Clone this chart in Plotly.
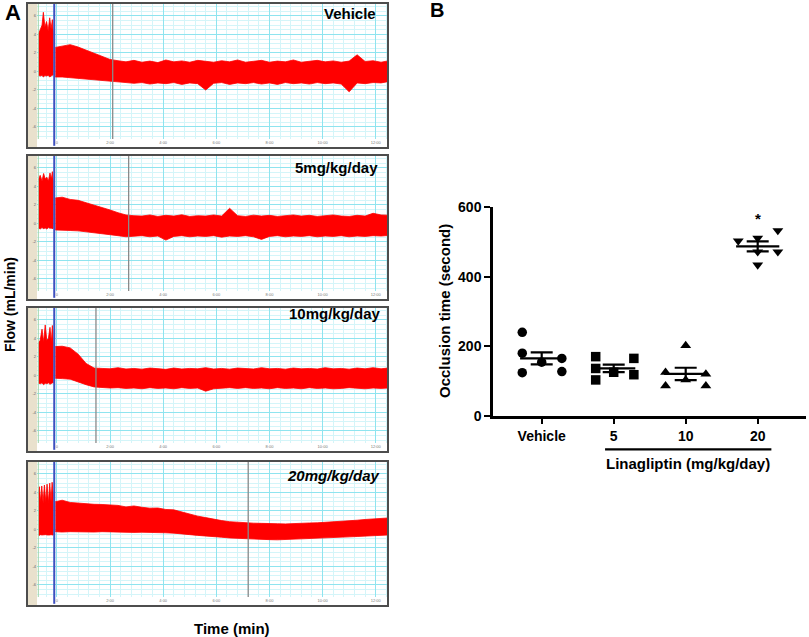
import plotly.graph_objects as go

W, H = 809, 637

# ---------------- panel A: flow traces (envelope of the red signal, grid units) ----------------
trace_names = ["Vehicle", "5mg/kg/day", "10mg/kg/day", "20mg/kg/day"]
occlusion_marks = [2.1, 2.7, 1.47, 7.2]      # grey cursor line, min

time_ticks = [0, 2, 4, 6, 8, 10, 12]
time_labels = ["0", "2:00", "4:00", "6:00", "8:00", "10:00", "12:00"]
flow_ticks = [-3, -2, -1, 0, 1, 2, 3]
flow_labels = ["-6", "-4", "-2", "0", "2", "4", "6"]

# samples before the probe marker (min)
veh_t_pre = [-0.70, -0.63, -0.56, -0.51, -0.45, -0.39, -0.33, -0.27, -0.22, -0.17, -0.14]
veh_hi_pre = [2.0, 2.3, 2.5, 3.2, 2.4, 2.7, 2.2, 2.9, 2.3, 2.8, 2.1]
veh_lo_pre = [-0.2, -0.25, -0.2, -0.3, -0.22, -0.25, -0.2, -0.3, -0.25, -0.2, -0.2]
mg5_t_pre = [-0.70, -0.63, -0.56, -0.50, -0.44, -0.38, -0.32, -0.26, -0.21, -0.17, -0.14]
mg5_hi_pre = [2.35, 2.6, 2.3, 2.7, 2.4, 2.5, 2.3, 2.73, 2.4, 2.8, 2.3]
mg5_lo_pre = [-0.24, -0.3, -0.22, -0.28, -0.24, -0.3, -0.22, -0.26, -0.24, -0.3, -0.24]
mg10_t_pre = [-0.70, -0.63, -0.56, -0.50, -0.44, -0.38, -0.32, -0.26, -0.21, -0.17, -0.14]
mg10_hi_pre = [1.72, 1.9, 2.5, 1.8, 2.73, 1.9, 2.0, 2.6, 1.8, 2.7, 1.75]
mg10_lo_pre = [-0.41, -0.45, -0.4, -0.5, -0.42, -0.45, -0.4, -0.48, -0.42, -0.4, -0.41]
mg20_t_pre = [-0.70, -0.66, -0.61, -0.57, -0.52, -0.47, -0.42, -0.37, -0.32, -0.27, -0.22, -0.18, -0.14]
mg20_hi_pre = [1.9, 2.31, 1.5, 2.35, 1.45, 2.4, 1.5, 2.45, 1.45, 2.5, 1.5, 2.55, 1.9]
mg20_lo_pre = [-0.3, -0.32, -0.28, -0.3, -0.32, -0.3, -0.28, -0.3, -0.32, -0.3, -0.28, -0.3, -0.3]

# samples after the probe marker (min), shared by the four recordings
t_post = [-0.06, 0.2, 0.5, 0.8, 1.1, 1.4, 1.7, 2.0, 2.3, 2.6,
          2.9, 3.2, 3.5, 3.8, 4.1, 4.4, 4.7, 5.0, 5.3, 5.6,
          5.9, 6.2, 6.5, 6.8, 7.1, 7.4, 7.7, 8.0, 8.3, 8.6,
          8.9, 9.2, 9.5, 9.8, 10.1, 10.4, 10.7, 11.0, 11.3, 11.6,
          11.9, 12.2, 12.46]

veh_hi = [1.3, 1.38, 1.45, 1.32, 1.15, 0.95, 0.78, 0.65, 0.58, 0.52,
          0.6, 0.5, 0.56, 0.48, 0.62, 0.52, 0.57, 0.5, 0.6, 0.53,
          0.5, 0.58, 0.52, 0.62, 0.5, 0.55, 0.6, 0.5, 0.56, 0.52,
          0.62, 0.5, 0.55, 0.6, 0.52, 0.57, 0.5, 0.56, 0.9, 0.54,
          0.58, 0.5, 0.57]
veh_lo = [-0.3, -0.3, -0.32, -0.35, -0.38, -0.42, -0.46, -0.5, -0.56, -0.6,
          -0.64, -0.6, -0.68, -0.62, -0.66, -0.6, -0.7, -0.62, -0.66, -1.0,
          -0.64, -0.6, -0.7, -0.62, -0.66, -0.6, -0.68, -0.62, -0.7, -0.6,
          -0.66, -0.62, -0.68, -0.6, -0.66, -0.62, -0.68, -1.1, -0.62, -0.66,
          -0.6, -0.62, -0.55]

mg5_hi = [1.38, 1.42, 1.3, 1.25, 1.12, 1.0, 0.88, 0.73, 0.58, 0.46,
          0.42, 0.4, 0.46, 0.38, 0.44, 0.4, 0.47, 0.38, 0.42, 0.4,
          0.46, 0.4, 0.82, 0.42, 0.38, 0.45, 0.4, 0.44, 0.38, 0.42,
          0.46, 0.4, 0.44, 0.38, 0.42, 0.46, 0.4, 0.38, 0.44, 0.4,
          0.55, 0.46, 0.45]
mg5_lo = [-0.35, -0.36, -0.38, -0.4, -0.42, -0.5, -0.55, -0.6, -0.66, -0.72,
          -0.7, -0.66, -0.72, -0.68, -0.9, -0.7, -0.66, -0.72, -0.68, -0.7,
          -0.66, -0.74, -0.68, -0.7, -0.66, -0.72, -0.86, -0.7, -0.66, -0.72,
          -0.68, -0.7, -0.66, -0.72, -0.68, -0.7, -0.66, -0.72, -0.68, -0.7,
          -0.66, -0.68, -0.65]

mg10_hi = [1.56, 1.58, 1.49, 1.15, 0.65, 0.4, 0.38, 0.36, 0.42, 0.35,
           0.38, 0.34, 0.4, 0.36, 0.33, 0.4, 0.35, 0.38, 0.36, 0.42,
           0.35, 0.38, 0.34, 0.4, 0.36, 0.35, 0.42, 0.36, 0.38, 0.34,
           0.4, 0.36, 0.38, 0.35, 0.42, 0.36, 0.38, 0.34, 0.4, 0.36,
           0.42, 0.36, 0.4]
mg10_lo = [-0.15, -0.17, -0.2, -0.34, -0.5, -0.62, -0.66, -0.68, -0.66, -0.7,
           -0.68, -0.72, -0.66, -0.7, -0.68, -0.72, -0.66, -0.7, -0.68, -0.85,
           -0.72, -0.68, -0.66, -0.7, -0.66, -0.7, -0.68, -0.72, -0.66, -0.7,
           -0.68, -0.72, -0.66, -0.7, -0.68, -0.72, -0.7, -0.66, -0.7, -0.72,
           -0.68, -0.7, -0.68]

mg20_hi = [1.5, 1.58, 1.46, 1.42, 1.4, 1.36, 1.35, 1.32, 1.3, 1.22,
           1.27, 1.2, 1.15, 1.16, 1.08, 1.06, 0.95, 0.8, 0.72, 0.64,
           0.55, 0.48, 0.42, 0.38, 0.36, 0.34, 0.33, 0.3, 0.31, 0.3,
           0.33, 0.32, 0.35, 0.36, 0.38, 0.4, 0.44, 0.46, 0.5, 0.54,
           0.58, 0.6, 0.62]
mg20_lo = [-0.12, -0.14, -0.12, -0.13, -0.12, -0.14, -0.12, -0.13, -0.15, -0.14,
           -0.16, -0.15, -0.17, -0.16, -0.18, -0.2, -0.22, -0.28, -0.32, -0.36,
           -0.4, -0.42, -0.46, -0.48, -0.51, -0.52, -0.54, -0.55, -0.56, -0.55,
           -0.53, -0.52, -0.5, -0.47, -0.45, -0.44, -0.42, -0.4, -0.38, -0.36,
           -0.33, -0.31, -0.3]

segments = [
    (veh_t_pre, veh_hi_pre, veh_lo_pre, veh_hi, veh_lo),
    (mg5_t_pre, mg5_hi_pre, mg5_lo_pre, mg5_hi, mg5_lo),
    (mg10_t_pre, mg10_hi_pre, mg10_lo_pre, mg10_hi, mg10_lo),
    (mg20_t_pre, mg20_hi_pre, mg20_lo_pre, mg20_hi, mg20_lo),
]

# ---------------- panel B: occlusion time ----------------
groups = ["Vehicle", "5", "10", "20"]
vehicle_sec = [240, 180, 124, 154, 165, 127]
lina5_sec = [170, 136, 103, 125, 165, 118]
lina10_sec = [202, 125, 86, 103, 120, 86]
lina20_sec = [503, 511, 533, 472, 472, 434]
group_values = [vehicle_sec, lina5_sec, lina10_sec, lina20_sec]
group_symbols = ["circle", "square", "triangle-up", "triangle-down"]
# horizontal spread of the dots inside each column
dot_offsets = [
    [-0.27, -0.27, -0.27, 0.0, 0.28, 0.28],
    [-0.25, -0.25, -0.25, 0.0, 0.28, 0.28],
    [0.0, -0.28, -0.28, 0.0, 0.28, 0.28],
    [-0.27, 0.0, 0.28, 0.0, 0.28, 0.0],
]

fig = go.Figure()


def px_x(p):
    return p / W


def px_y(p):
    return 1 - p / H


box_tops = [3, 155, 307, 461]
plot_h = 136
box_h = 145
x_left, x_plot, x_right = 27, 37, 388
t_range = [(x_plot - 56.9) / 26.57, (x_right - 56.9) / 26.57]

shapes = []
annotations = []
label_pos = [(378, 13), (380, 167), (383, 313), (382, 475)]

for i, (tp, hp, lp, hq, lq) in enumerate(segments):
    n = "" if i == 0 else str(i + 1)
    top = box_tops[i]
    fig.update_layout(**{
        "xaxis" + n: dict(
            domain=[px_x(x_plot), px_x(x_right)], range=t_range, anchor="y" + n,
            tickvals=time_ticks, ticktext=time_labels, ticks="", showline=False,
            tickfont=dict(size=4, color="#777"), zeroline=False, automargin=False,
            showgrid=True, gridcolor="#8fe4ef", gridwidth=1.2,
            minor=dict(dtick=0.4, tick0=0, showgrid=True, gridcolor="#d4f5f9", gridwidth=0.8),
        ),
        "yaxis" + n: dict(
            domain=[px_y(top + plot_h), px_y(top)], range=[-3.65, 3.70], anchor="x" + n,
            tickvals=flow_ticks, ticktext=flow_labels, ticks="", showline=False,
            tickfont=dict(size=4, color="#666"), zeroline=False, automargin=False,
            showgrid=True, gridcolor="#8fe4ef", gridwidth=1.2,
            minor=dict(dtick=0.25, tick0=0, showgrid=True, gridcolor="#d4f5f9", gridwidth=0.8),
        ),
    })
    for tt, hh, ll in [(tp, hp, lp), (t_post, hq, lq)]:
        fig.add_trace(go.Scatter(
            x=tt + tt[::-1], y=hh + ll[::-1], fill="toself", mode="lines",
            line=dict(color="#ff0000", width=0.8), fillcolor="#ff0000",
            xaxis="x" + n, yaxis="y" + n, showlegend=False, hoverinfo="skip",
        ))
    # beige label strip
    shapes.append(dict(type="rect", xref="paper", yref="paper", layer="below",
                       x0=px_x(x_left), x1=px_x(x_plot), y0=px_y(top + box_h), y1=px_y(top),
                       fillcolor="#e9e1cd", line=dict(width=0)))
    # probe start (green), marker line (blue), occlusion cursor (grey)
    shapes.append(dict(type="line", xref="x" + n, yref="y" + n + " domain",
                       x0=-0.70, x1=-0.70, y0=0, y1=1, line=dict(color="#9fd4a8", width=1)))
    shapes.append(dict(type="line", xref="x" + n, yref="y" + n + " domain",
                       x0=-0.10, x1=-0.10, y0=-0.05, y1=1, line=dict(color="#3d50c0", width=2)))
    shapes.append(dict(type="line", xref="x" + n, yref="y" + n + " domain",
                       x0=occlusion_marks[i], x1=occlusion_marks[i], y0=0, y1=1,
                       line=dict(color="#8a8a8a", width=1.3)))
    shapes.append(dict(type="rect", xref="paper", yref="paper",
                       x0=px_x(x_left), x1=px_x(x_right), y0=px_y(top + box_h), y1=px_y(top),
                       line=dict(color="#4d4d4d", width=2)))
    lx, ly = label_pos[i]
    annotations.append(dict(
        x=px_x(lx), y=px_y(ly), xref="paper", yref="paper", xanchor="right", yanchor="middle",
        text="<i>" + trace_names[i] + "</i>" if i == 3 else trace_names[i], showarrow=False,
        font=dict(size=15, color="black", family="Liberation Sans, Arial", weight="bold"),
    ))

# ---------------- panel B axes and marks ----------------
b_left, b_right = 493, 806
b_zero, b_top = 415.7, 207.3
cat_x0, cat_step = 541.7, 72.0
xb_range = [(b_left - cat_x0) / cat_step, (b_right - cat_x0) / cat_step]

fig.update_layout(
    xaxis5=dict(domain=[px_x(b_left), px_x(b_right)], range=xb_range, anchor="y5",
                tickvals=[0, 1, 2, 3], ticktext=groups, showgrid=False, zeroline=False,
                showline=True, linecolor="black", linewidth=2.5, automargin=False,
                ticks="outside", ticklen=6, tickwidth=2, tickcolor="black",
                tickfont=dict(size=14, color="black", family="Liberation Sans, Arial", weight="bold")),
    yaxis5=dict(domain=[px_y(b_zero), px_y(b_top)], range=[0, 600], anchor="x5",
                tickvals=[0, 200, 400, 600], showgrid=False, zeroline=False,
                showline=True, linecolor="black", linewidth=2.5, automargin=False,
                ticks="outside", ticklen=6, tickwidth=2, tickcolor="black",
                tickfont=dict(size=14, color="black", family="Liberation Sans, Arial", weight="bold")),
)

mean_x, mean_y, sem_list, means = [], [], [], []
for gi, vals in enumerate(group_values):
    m = sum(vals) / len(vals)
    sd = (sum((v - m) ** 2 for v in vals) / (len(vals) - 1)) ** 0.5
    means.append(m)
    sem_list.append(sd / len(vals) ** 0.5)
    mean_x += [gi - 0.3, gi + 0.3, None]
    mean_y += [m, m, None]
    fig.add_trace(go.Scatter(
        x=[gi + o for o in dot_offsets[gi]], y=vals, mode="markers",
        marker=dict(symbol=group_symbols[gi], size=9.5, color="black", line=dict(width=0)),
        xaxis="x5", yaxis="y5", showlegend=False, cliponaxis=False,
    ))

fig.add_trace(go.Scatter(x=mean_x, y=mean_y, mode="lines", line=dict(color="black", width=2.2),
                         xaxis="x5", yaxis="y5", showlegend=False))
fig.add_trace(go.Scatter(
    x=[0, 1, 2, 3], y=means, mode="markers", marker=dict(size=1, color="rgba(0,0,0,0)"),
    error_y=dict(type="data", array=sem_list, color="black", thickness=2.2, width=11),
    xaxis="x5", yaxis="y5", showlegend=False,
))

bold = dict(color="black", family="Liberation Sans, Arial", weight="bold")
shapes.append(dict(type="line", xref="x5", yref="paper", x0=0.88, x1=3.19,
                   y0=px_y(449.3), y1=px_y(449.3), line=dict(color="black", width=2.2)))
mid = dict(xanchor="center", yanchor="middle", showarrow=False, xref="paper", yref="paper")
annotations += [
    dict(x=3, y=568, xref="x5", yref="y5", text="*", showarrow=False, xanchor="center",
         yanchor="middle", font=dict(size=15, **bold)),
    dict(x=px_x(688), y=px_y(463), text="Linagliptin (mg/kg/day)", font=dict(size=15, **bold), **mid),
    dict(x=px_x(444), y=px_y(311), text="Occlusion time (second)", textangle=-90,
         font=dict(size=15, **bold), **mid),
    dict(x=px_x(13), y=px_y(12), text="A", font=dict(size=22, **bold), **mid),
    dict(x=px_x(437), y=px_y(10), text="B", font=dict(size=20, **bold), **mid),
    dict(x=px_x(10), y=px_y(305), text="Flow (mL/min)", textangle=-90, font=dict(size=14, **bold), **mid),
    dict(x=px_x(232), y=px_y(628), text="Time (min)", font=dict(size=15, **bold), **mid),
]

fig.update_layout(
    width=W, height=H, margin=dict(l=0, r=0, t=0, b=0, pad=0, autoexpand=False),
    paper_bgcolor="white", plot_bgcolor="white", showlegend=False,
    shapes=shapes, annotations=annotations,
    font=dict(family="Liberation Sans, Arial"),
)

# pin the figure to the window's corner (no default body margin, no scrolling)
pin = ("document.documentElement.style.margin='0';document.body.style.margin='0';"
       "document.documentElement.style.overflow='hidden';document.body.style.overflow='hidden';"
       "var d=document.getElementById('{plot_id}');d.style.position='fixed';"
       "d.style.left='0px';d.style.top='0px';")
fig.write_html("out.html", post_script=pin, config={"displayModeBar": False})
